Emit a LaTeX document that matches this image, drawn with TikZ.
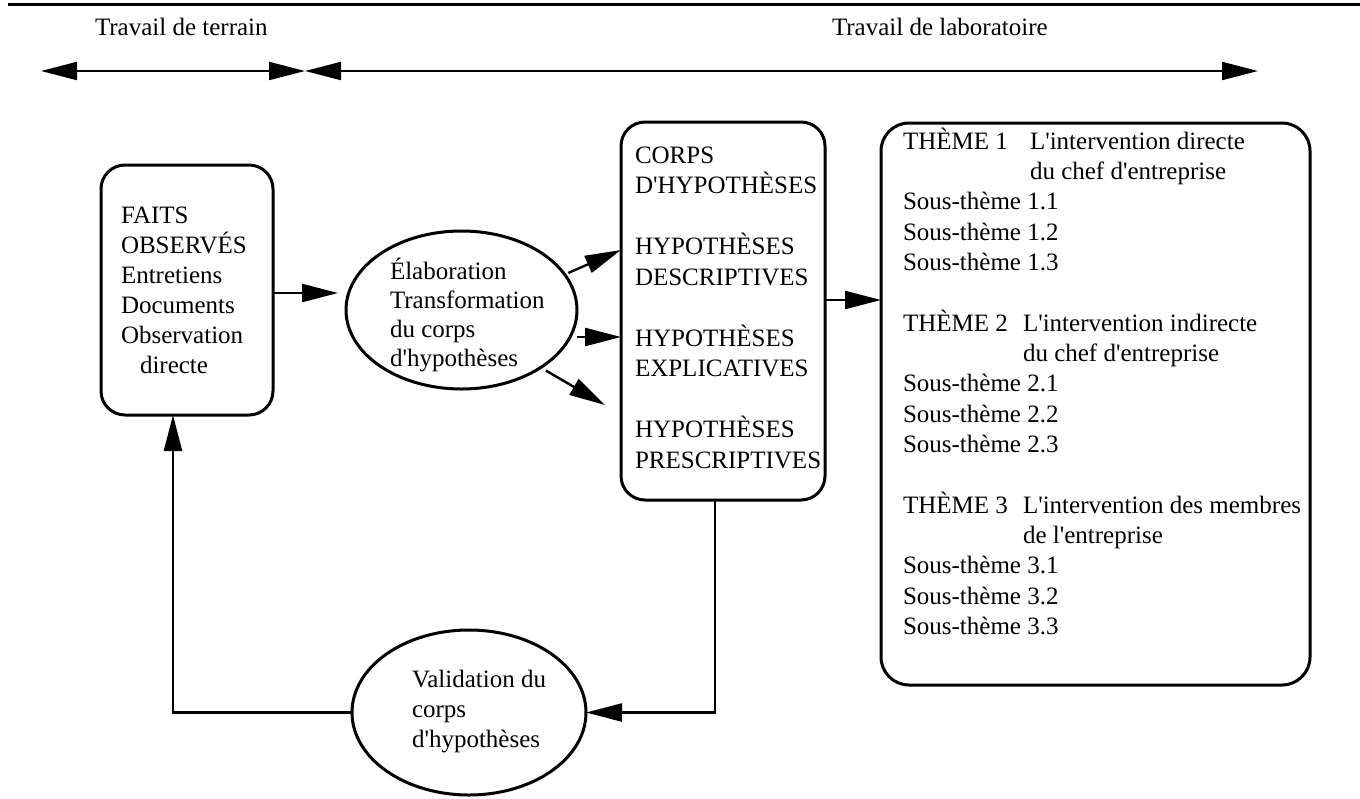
\documentclass[tikz,border=0pt]{standalone}
\usepackage{fontspec}
\newfontfamily\tnr{Liberation Serif}
\usetikzlibrary{arrows.meta,shapes.geometric,calc}
\begin{document}
\begin{tikzpicture}[x=0.5pt,y=-0.5pt,
  every node/.style={font=\tnr\fontsize{12.5pt}{15pt}\selectfont, inner sep=0pt, outer sep=0pt},
  ln/.style={anchor=base west},
  box/.style={draw, line width=1.5pt, rounded corners=12pt, rectangle},
  oval/.style={draw, line width=1.5pt, ellipse},
  tip/.style={-{Triangle[length=18pt,width=9pt]}},
  conn/.style={line width=1.2pt, tip},
  dbl/.style={line width=1pt, {Triangle[length=18pt,width=9pt]}-{Triangle[length=18pt,width=9pt]}},
]
\useasboundingbox (0,0) rectangle (1360,798);

% top rule and headers
\coordinate (rl) at (8,4);
\coordinate (rr) at (1360,4);
\draw[line width=1.5pt] (rl) -- (rr);
\node[ln] (h1) at (95,35) {Travail de terrain};
\node[ln] (h2) at (832,35) {Travail de laboratoire};
\coordinate (tl) at (41,71);
\coordinate (tm) at (305,71);
\coordinate (tr) at (1258,71);
\draw[dbl] (tl) -- (tm);
\draw[dbl] (tm) -- (tr);

% shapes
\node[box, minimum width=86pt, minimum height=125pt] (faits) at (187,290) {};
\node[box, minimum width=102pt, minimum height=189pt] (corps) at (723,311) {};
\node[box, rounded corners=14pt, minimum width=214.5pt, minimum height=281pt] (themes) at (1095.5,404) {};
\node[oval, minimum width=115.5pt, minimum height=79pt] (elab) at (461.5,310) {};
\node[oval, minimum width=117pt, minimum height=82.5pt] (val) at (469,712.5) {};

% FAITS text
\node[ln] (f1) at (121,223) {FAITS};
\node[ln] (f2) at (121,253) {OBSERVÉS};
\node[ln] (f3) at (121,283) {Entretiens};
\node[ln] (f4) at (121,313) {Documents};
\node[ln] (f5) at (121,343) {Observation};
\node[ln] (f6) at (140,373) {directe};

% Elaboration text
\node[ln] (e1) at (390,279) {Élaboration};
\node[ln] (e2) at (390,308) {Transformation};
\node[ln] (e3) at (390,337) {du corps};
\node[ln] (e4) at (390,366) {d'hypothèses};

% Corps text
\node[ln] (c1) at (635,163) {CORPS};
\node[ln] (c2) at (635,193.5) {D'HYPOTHÈSES};
\node[ln] (c3) at (635,254.5) {HYPOTHÈSES};
\node[ln] (c4) at (635,285) {DESCRIPTIVES};
\node[ln] (c5) at (635,346) {HYPOTHÈSES};
\node[ln] (c6) at (635,376.5) {EXPLICATIVES};
\node[ln] (c7) at (635,437.5) {HYPOTHÈSES};
\node[ln] (c8) at (635,468) {PRESCRIPTIVES};

% Themes text
\node[ln] (t1) at (903,149) {THÈME 1};
\node[ln] (t1a) at (1030,149) {L'intervention directe};
\node[ln] (t1b) at (1030,179.3) {du chef d'entreprise};
\node[ln] (s11) at (903,209.6) {Sous-thème 1.1};
\node[ln] (s12) at (903,240) {Sous-thème 1.2};
\node[ln] (s13) at (903,270) {Sous-thème 1.3};
\node[ln] (t2) at (903,331) {THÈME 2};
\node[ln] (t2a) at (1023,331) {L'intervention indirecte};
\node[ln] (t2b) at (1023,361) {du chef d'entreprise};
\node[ln] (s21) at (903,391) {Sous-thème 2.1};
\node[ln] (s22) at (903,422) {Sous-thème 2.2};
\node[ln] (s23) at (903,452) {Sous-thème 2.3};
\node[ln] (t3) at (903,513) {THÈME 3};
\node[ln] (t3a) at (1023,513) {L'intervention des membres};
\node[ln] (t3b) at (1023,543) {de l'entreprise};
\node[ln] (s31) at (903,573) {Sous-thème 3.1};
\node[ln] (s32) at (903,604) {Sous-thème 3.2};
\node[ln] (s33) at (903,634) {Sous-thème 3.3};

% Validation text
\node[ln] (v1) at (412,687) {Validation du};
\node[ln] (v2) at (412,717) {corps};
\node[ln] (v3) at (412,747) {d'hypothèses};

% connectors
\draw[conn, shorten >=4pt] ([yshift=-1.5pt]faits.east) -- ([yshift=-1.5pt]faits.east -| elab.west);
\draw[conn, shorten <=2pt] (elab.19) -- ([yshift=30.5pt]corps.west);
\draw[conn] ([yshift=-13.5pt]elab.east) -- ([yshift=-13.5pt]elab.east -| corps.west);
\draw[conn, shorten <=3pt] (elab.324) -- ([xshift=-8pt,yshift=-47pt]corps.west);
\draw[conn] ([yshift=5.5pt]corps.east) -- ([yshift=5.5pt]corps.east -| themes.west);
\draw[conn] ([xshift=-4pt]corps.south) |- (val.east);
\draw[conn] (val.west) -| ([xshift=-7pt]faits.south);
\end{tikzpicture}
\end{document}
